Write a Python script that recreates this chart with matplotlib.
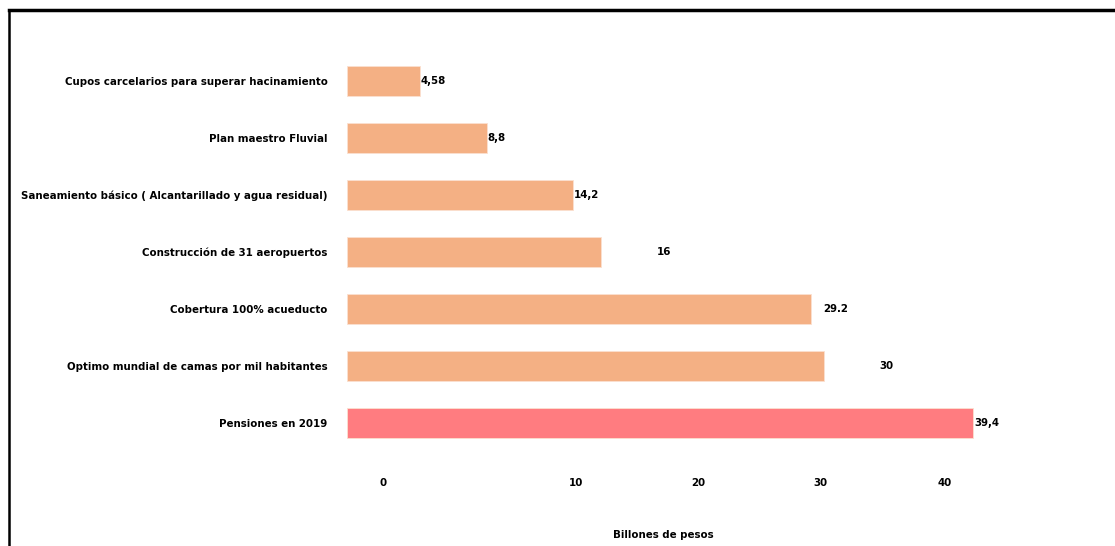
import matplotlib.pyplot as plt
from matplotlib.lines import Line2D

categories = ['Pensiones en 2019',
              'Optimo mundial de camas por mil habitantes',
              'Cobertura 100% acueducto',
              'Construcción de 31 aeropuertos',
              'Saneamiento básico ( Alcantarillado y agua residual)',
              'Plan maestro Fluvial',
              'Cupos carcelarios para superar hacinamiento']
values = [39.4, 30, 29.2, 16, 14.2, 8.8, 4.58]
value_labels = ['39,4', '30', '29.2', '16', '14,2', '8,8', '4,58']
colors = ['#FF7C80', '#F4B084', '#F4B084', '#F4B084', '#F4B084', '#F4B084', '#F4B084']
label_shift = [0.05, 3.5, 0.75, 3.5, 0.05, 0.05, 0.05]
# tick labels as they sit in the original (not evenly spaced)
tick_pos = [2.26, 14.4, 22.1, 29.8, 37.6]
tick_labels = ['0', '10', '20', '30', '40']

plt.rcParams['font.family'] = ['DejaVu Sans']
plt.rcParams['font.stretch'] = 'condensed'
plt.rcParams['font.weight'] = 'bold'
fs = 8.2

fig = plt.figure(figsize=(11.15, 5.46), dpi=100)
ax = fig.add_axes([347 / 1115, 94.5 / 546, 747 / 1115, 399 / 546])

ypos = list(range(len(categories)))
ax.barh(ypos, values, height=0.52, color=colors, edgecolor='#FBE0D0', linewidth=0.6)
for y, v, lab, s in zip(ypos, values, value_labels, label_shift):
    ax.text(v + s, y, lab, va='center', ha='left', fontsize=fs, fontweight='bold',
            fontstretch='condensed')

ax.set_xlim(0, 47)
ax.set_ylim(-0.5, 6.5)
ax.set_yticks(ypos)
ax.set_yticklabels(categories, fontsize=fs, fontweight='bold', fontstretch='condensed')
ax.set_xticks(tick_pos)
ax.set_xticklabels(tick_labels, fontsize=fs, fontweight='bold', fontstretch='condensed')
ax.tick_params(axis='both', length=0)
ax.tick_params(axis='y', pad=14)
ax.tick_params(axis='x', pad=19)
for sp in ax.spines.values():
    sp.set_visible(False)

ax.set_xlabel('Billones de pesos', fontsize=fs, fontweight='bold', fontstretch='condensed')
ax.xaxis.label.set_va('center')
ax.xaxis.set_label_coords((663 - 347) / 747, -(535 - 451.5) / 399)

# outer frame (top and left edges only visible)
fig.add_artist(Line2D([9 / 1115, 1], [1 - 10 / 546, 1 - 10 / 546], color='black', lw=2.5))
fig.add_artist(Line2D([9 / 1115, 9 / 1115], [0, 1 - 10 / 546], color='black', lw=1.8))

fig.savefig('out.png', dpi=100)
